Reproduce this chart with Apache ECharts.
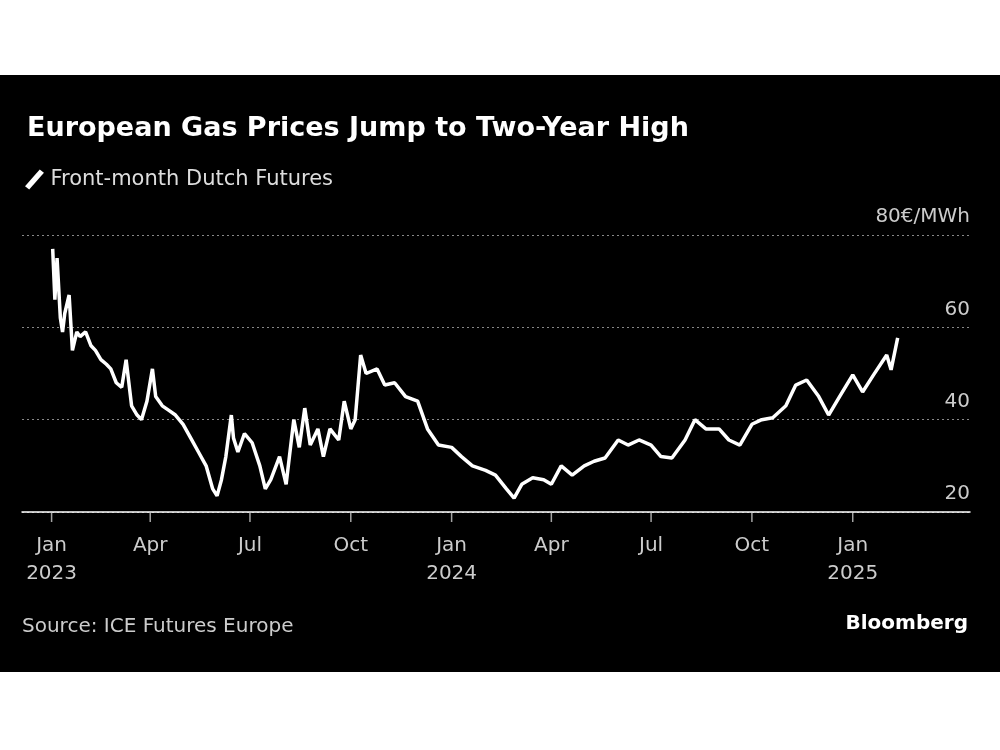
<!DOCTYPE html>
<html><head><meta charset="utf-8">
<script src="https://cdn.jsdelivr.net/npm/echarts@6/dist/echarts.min.js"></script>
<style>body{margin:0;background:#fff}#c{position:absolute;left:0;top:75px;width:1000px;height:597px;background:#000}</style>
</head><body><div id="c"></div>
<script>
// Front-month Dutch TTF, EUR/MWh
var dates = ['2023-01-02','2023-01-04','2023-01-06','2023-01-09','2023-01-11','2023-01-13','2023-01-17','2023-01-20','2023-01-24','2023-01-27','2023-02-01','2023-02-06','2023-02-10','2023-02-15','2023-02-20','2023-02-24','2023-03-01','2023-03-06','2023-03-10','2023-03-15','2023-03-20','2023-03-24','2023-03-29','2023-04-03','2023-04-06','2023-04-12','2023-04-18','2023-04-24','2023-05-01','2023-05-08','2023-05-15','2023-05-22','2023-05-28','2023-06-01','2023-06-05','2023-06-09','2023-06-14','2023-06-16','2023-06-20','2023-06-26','2023-07-03','2023-07-10','2023-07-15','2023-07-20','2023-07-28','2023-08-03','2023-08-10','2023-08-15','2023-08-20','2023-08-25','2023-09-01','2023-09-06','2023-09-12','2023-09-20','2023-09-25','2023-10-01','2023-10-05','2023-10-10','2023-10-15','2023-10-25','2023-11-01','2023-11-10','2023-11-20','2023-12-01','2023-12-10','2023-12-20','2024-01-01','2024-01-10','2024-01-20','2024-02-01','2024-02-10','2024-02-20','2024-02-27','2024-03-05','2024-03-15','2024-03-25','2024-04-01','2024-04-10','2024-04-20','2024-05-01','2024-05-10','2024-05-20','2024-06-01','2024-06-10','2024-06-20','2024-07-01','2024-07-10','2024-07-20','2024-08-01','2024-08-10','2024-08-20','2024-09-01','2024-09-10','2024-09-20','2024-10-01','2024-10-10','2024-10-20','2024-11-01','2024-11-10','2024-11-20','2024-12-01','2024-12-10','2024-12-20','2025-01-01','2025-01-10','2025-01-20','2025-02-01','2025-02-05','2025-02-11'];
var prices = [77,66,75,62,59,63,67,55,59,58,59,56,55,53,52,51,48,47,53,43,41,40,44,51,45,43,42,41,39,36,33,30,25,23.5,27,32,41,36,33,37,35,30,25,27,32,26,40,34,42.5,34.5,38,32,38,35.6,44,38,40,54,50,51,47.5,48,45,44,38,34.5,34,32,30,29,28,25,23,26,27.4,27,26,30,28,30,31,31.7,35.6,34.5,35.6,34.5,32,31.7,35.6,40,38,38,35.6,34.5,39,40,40.4,43,47.5,48.6,45,41,45,49.7,46,49.7,54,50.8,57.7];
var quarterTicks = ['2023-01-01','2023-04-01','2023-07-01','2023-10-01','2024-01-01','2024-04-01','2024-07-01','2024-10-01','2025-01-01'];
var quarterNames = ['Jan','Apr','Jul','Oct'];

var chart = echarts.init(document.getElementById('c'));
var font = '"DejaVu Sans", sans-serif';
chart.setOption({
    backgroundColor: '#000',
    textStyle: {fontFamily: font},
    title: {
        text: 'European Gas Prices Jump to Two-Year High',
        left: 22, top: 35,
        textStyle: {color: '#fff', fontSize: 27, fontWeight: 'bold', fontFamily: font}
    },
    legend: {
        left: 20, top: 89, itemWidth: 22, itemHeight: 20,
        icon: 'path://M0,18 L14,2 L18,5 L4,21 Z',
        textStyle: {color: '#ddd', fontSize: 21, fontFamily: font},
        data: ['Front-month Dutch Futures']
    },
    graphic: [
        {type: 'text', left: 22, top: 542, style: {text: 'Source: ICE Futures Europe', fill: '#ccc', font: '20px ' + font}},
        {type: 'text', right: 32, top: 539, style: {text: 'Bloomberg', fill: '#fff', font: 'bold 20px ' + font}}
    ],
    grid: {left: 22, right: 30, top: 160, bottom: 160},
    xAxis: {
        type: 'time',
        min: '2022-12-05', max: '2025-04-18',
        splitNumber: 30,
        axisLine: {lineStyle: {color: '#fff', width: 1.5}},
        axisTick: {show: false},
        splitLine: {show: false},
        axisLabel: {
            color: '#ccc', fontSize: 20, lineHeight: 28, margin: 20, hideOverlap: false,
            formatter: function (v) {
                var d = new Date(v);
                if (d.getDate() !== 1 || d.getMonth() % 3 !== 0 || d > new Date('2025-02-01')) return '';
                var m = quarterNames[d.getMonth() / 3];
                return d.getMonth() === 0 ? m + '\n' + d.getFullYear() : m;
            }
        }
    },
    yAxis: {
        type: 'value', position: 'right', min: 20, max: 80, interval: 20,
        axisLine: {show: false}, axisTick: {show: false},
        splitLine: {lineStyle: {color: '#888', type: [2, 3]}},
        axisLabel: {
            inside: true, color: '#ccc', fontSize: 20, verticalAlign: 'bottom', margin: 0,
            padding: [0, 0, 8, 0],
            formatter: function (v) { return v === 80 ? '80€/MWh' : v; }
        }
    },
    series: [{
        name: 'Front-month Dutch Futures', type: 'line', showSymbol: false,
        itemStyle: {color: '#fff'},
        lineStyle: {color: '#fff', width: 3.5},
        data: dates.map(function (d, i) { return [d, prices[i]]; })
    }, {
        type: 'scatter', silent: true, symbol: 'rect', symbolSize: [1.5, 10], symbolOffset: [0, 5],
        itemStyle: {color: '#ccc'},
        data: quarterTicks.map(function (d) { return [d, 20]; })
    }]
});
</script></body></html>
